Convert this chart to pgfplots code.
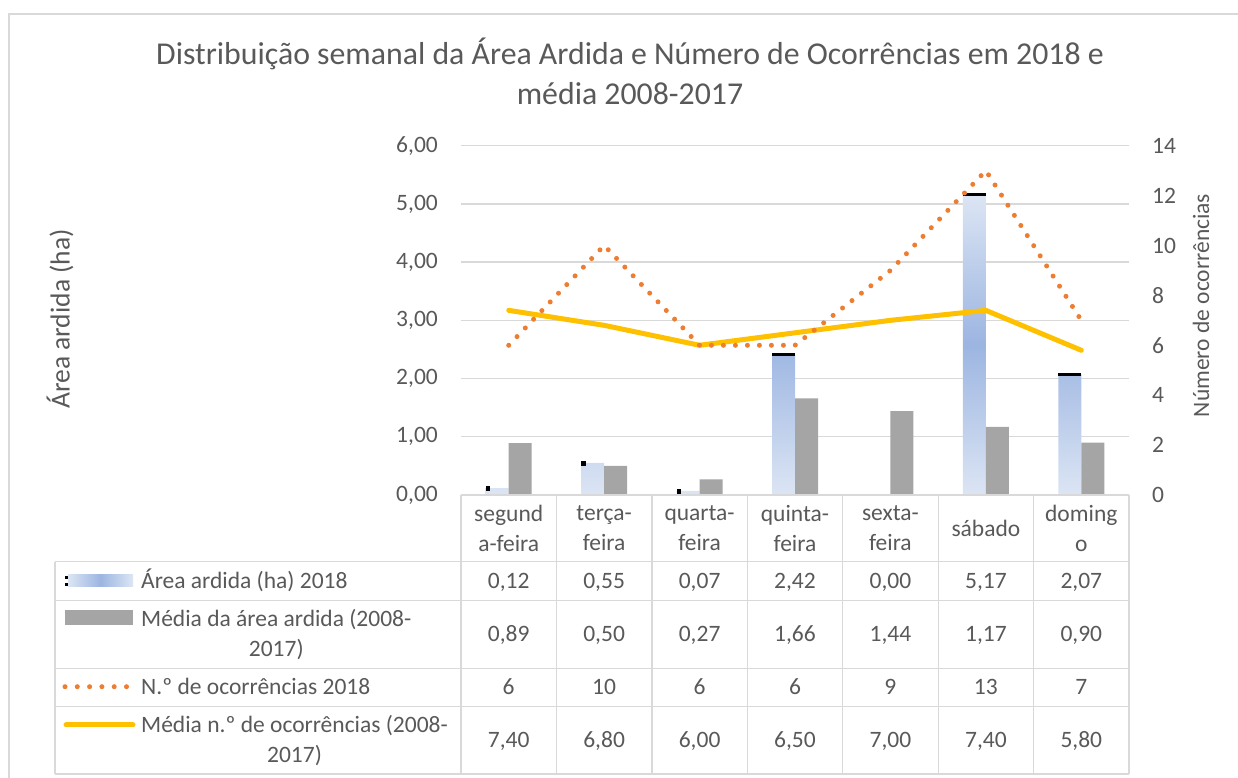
\documentclass[border=0pt]{standalone}
\usepackage{fontspec}
\setmainfont{Carlito}
\usepackage{pgfplots}
\pgfplotsset{compat=1.18}
\definecolor{txt}{HTML}{595959}
\definecolor{gridc}{HTML}{D9D9D9}
\definecolor{barg}{HTML}{A5A5A5}
\definecolor{orng}{HTML}{ED7D31}
\definecolor{yell}{HTML}{FFC000}
\definecolor{bluel}{HTML}{DCE5F4}
\definecolor{bluem}{HTML}{9CB5E1}
\newcommand\lbl{\fontsize{23.5bp}{30bp}\selectfont}
\newcommand\ttl{\fontsize{31.8bp}{40bp}\selectfont}
\newcommand\cell[3]{\node[anchor=base, font=\lbl, text=txt, inner sep=0pt] at (#1,#2) {#3};}
\newcommand\hdr[2]{\node[anchor=center, align=center, font=\lbl, text=txt, inner sep=0pt] at (#1,249.7) {#2};}
\begin{document}
\begin{tikzpicture}[x=1bp,y=1bp]
\useasboundingbox (0,0) rectangle (1238,778);
\draw[gridc, line width=1.3bp] (9,-5) -- (9,764) -- (1245,764);
% title
\node[anchor=base, text=txt, font=\ttl, inner sep=0pt] at (630,713) {Distribuição semanal da Área Ardida e Número de Ocorrências em 2018 e};
\node[anchor=base, text=txt, font=\ttl, inner sep=0pt] at (630,673) {média 2008-2017};
% axis titles
\node[rotate=90, anchor=center, text=txt, font=\fontsize{27.5bp}{32bp}\selectfont, inner sep=0pt] at (60,459) {Área ardida (ha)};
\node[rotate=90, anchor=center, text=txt, font=\lbl, inner sep=0pt] at (1201,472.5) {Número de ocorrências};

\begin{axis}[at={(461bp,283bp)}, anchor=south west, scale only axis,
  width=668bp, height=349.3bp,
  xmin=-0.5, xmax=6.5, ymin=0, ymax=6,
  xtick=\empty, ytick={0,1,2,3,4,5,6},
  ymajorgrids, grid style={gridc, line width=1.3bp},
  axis line style={draw=none}, ytick style={draw=none}, ytick pos=left,
  yticklabel style={font=\lbl, text=txt, inner sep=0pt, xshift=-23bp},
  yticklabel={\pgfmathprintnumber[fixed,fixed zerofill,precision=2,use comma,assume math mode=true]{\tick}},
  clip=false]
\addplot[ybar, bar width=23bp, bar shift=-11.5bp, draw=none,
  top color=bluel, bottom color=bluel, middle color=bluem]
  coordinates {(0,0.12) (1,0.55) (2,0.07) (3,2.42) (4,0.00) (5,5.17) (6,2.07)};
\addplot[ybar, bar width=23bp, bar shift=11.5bp, draw=none, fill=barg]
  coordinates {(0,0.89) (1,0.50) (2,0.27) (3,1.66) (4,1.44) (5,1.17) (6,0.90)};
\addplot[only marks, mark=-, mark size=11.5bp, xshift=-11.5bp,
  mark options={line width=3bp, draw=black}]
  coordinates {(3,2.42) (5,5.17) (6,2.07)};
\addplot[only marks, mark=square*, mark size=1.8bp, xshift=-21bp,
  mark options={draw=black, fill=black}]
  coordinates {(0,0.12) (1,0.55) (2,0.07)};
\end{axis}

\begin{axis}[at={(461bp,283bp)}, anchor=south west, scale only axis,
  width=668bp, height=349.3bp,
  xmin=-0.5, xmax=6.5, ymin=0, ymax=14,
  xtick=\empty, ytick={0,2,4,6,8,10,12,14},
  axis line style={draw=none}, ytick style={draw=none}, ytick pos=right,
  yticklabel style={font=\lbl, text=txt, inner sep=0pt, xshift=23bp},
  yticklabel={\pgfmathprintnumber[assume math mode=true]{\tick}},
  clip=false]
\addplot[yell, line width=5bp, line cap=round, line join=round]
  coordinates {(0,7.40) (1,6.80) (2,6.00) (3,6.50) (4,7.00) (5,7.40) (6,5.80)};
\addplot[orng, line width=5bp, line cap=round, dash pattern=on 0bp off 12bp]
  coordinates {(0,6) (1,10) (2,6) (3,6) (4,9) (5,13) (6,7)};
\end{axis}

% data table grid
\begin{scope}[gridc, line width=1.3bp]
\foreach \k in {0,...,7} \draw ({461+95.43*\k},283) -- ({461+95.43*\k},4);
\draw (55,216.3) -- (55,4);
\foreach \y in {216.3,177.3,109.7,71.3,4} \draw (55,\y) -- (1129,\y);
\draw (461,283) -- (1129,283);
\end{scope}

% header
\hdr{508.7}{segund\\a-feira}
\hdr{604.1}{terça-\\feira}
\hdr{699.6}{quarta-\\feira}
\hdr{795.0}{quinta-\\feira}
\hdr{890.4}{sexta-\\feira}
\hdr{985.9}{sábado}
\hdr{1081.3}{doming\\o}

% legend column
\shade[left color=bluel, right color=bluel, middle color=bluem] (68,191) rectangle (133,203);
\fill[black] (65,199) rectangle (68,202);
\fill[black] (65,192) rectangle (68,195);
\node[anchor=base west, font=\lbl, text=txt, inner sep=0pt] at (141,189) {Área ardida (ha) 2018};
\fill[barg] (65,153) rectangle (133,168);
\node[anchor=west, align=center, font=\lbl, text=txt, inner sep=0pt] at (141,143.5) {Média da área ardida (2008-\\2017)};
\draw[orng, line width=5bp, line cap=round, dash pattern=on 0bp off 12.3bp] (65,91.3) -- (132,91.3);
\node[anchor=base west, font=\lbl, text=txt, inner sep=0pt] at (141,83) {N.º de ocorrências 2018};
\draw[yell, line width=5bp, line cap=round] (66,53) -- (133,53);
\node[anchor=west, align=center, font=\lbl, text=txt, inner sep=0pt] at (141,37.65) {Média n.º de ocorrências (2008-\\2017)};

% values
\cell{508.7}{189}{0,12}\cell{604.1}{189}{0,55}\cell{699.6}{189}{0,07}\cell{795.0}{189}{2,42}\cell{890.4}{189}{0,00}\cell{985.9}{189}{5,17}\cell{1081.3}{189}{2,07}
\cell{508.7}{136}{0,89}\cell{604.1}{136}{0,50}\cell{699.6}{136}{0,27}\cell{795.0}{136}{1,66}\cell{890.4}{136}{1,44}\cell{985.9}{136}{1,17}\cell{1081.3}{136}{0,90}
\cell{508.7}{83}{6}\cell{604.1}{83}{10}\cell{699.6}{83}{6}\cell{795.0}{83}{6}\cell{890.4}{83}{9}\cell{985.9}{83}{13}\cell{1081.3}{83}{7}
\cell{508.7}{30}{7,40}\cell{604.1}{30}{6,80}\cell{699.6}{30}{6,00}\cell{795.0}{30}{6,50}\cell{890.4}{30}{7,00}\cell{985.9}{30}{7,40}\cell{1081.3}{30}{5,80}
\end{tikzpicture}
\end{document}
